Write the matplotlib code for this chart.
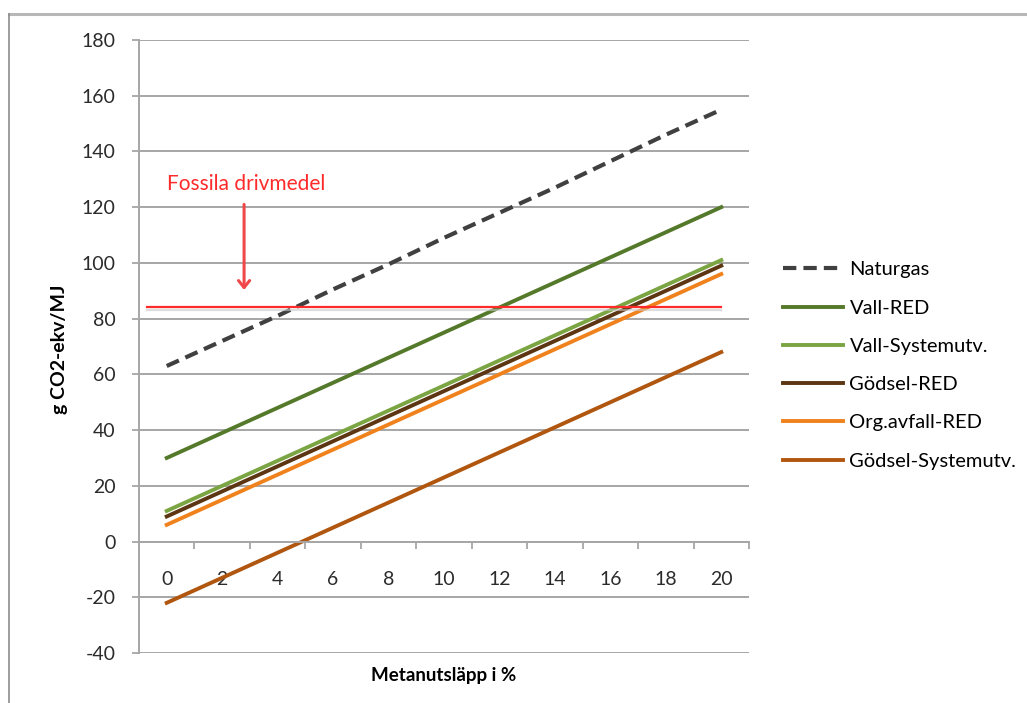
import matplotlib
matplotlib.use("Agg")
import matplotlib.pyplot as plt
import matplotlib.patheffects as pe
from matplotlib.lines import Line2D

plt.rcParams["axes.unicode_minus"] = False

# methane leakage (%)
x_vals = [0, 2, 4, 6, 8, 10, 12, 14, 16, 18, 20]

naturgas = [63, 72, 81, 90.5, 99.5, 109, 118, 127, 136.5, 146, 155]
vall_red = [30, 39, 48, 57, 66, 75, 84, 93, 102, 111, 120]
vall_sys = [11, 20, 29, 38, 47, 56, 65, 74, 83, 92, 101]
godsel_red = [9, 18, 27, 36, 45, 54, 63, 72, 81, 90, 99]
org_red = [6, 15, 24, 33, 42, 51, 60, 69, 78, 87, 96]
godsel_sys = [-22, -13, -4, 5, 14, 23, 32, 41, 50, 59, 68]

fossil_level = 84.3
fossil_span = [-0.7, 20]

series = [
    ("Naturgas", naturgas, "#404040"),
    ("Vall-RED", vall_red, "#55792a"),
    ("Vall-Systemutv.", vall_sys, "#7aa542"),
    ("Gödsel-RED", godsel_red, "#5c3512"),
    ("Org.avfall-RED", org_red, "#f0821e"),
    ("Gödsel-Systemutv.", godsel_sys, "#b0560f"),
]

GRID = "#a6a6a6"
TXT = "Lato"

fig = plt.figure(figsize=(10.27, 7.03), dpi=100)
ax = fig.add_axes([139 / 1027, 1 - 653 / 703, 610 / 1027, 613 / 703])

for name, ys, col in series:
    if name == "Naturgas":
        ax.plot(x_vals, ys, color=col, lw=3, dashes=(3.2, 1.7), label=name,
                solid_capstyle="butt", dash_capstyle="butt")
    else:
        ax.plot(x_vals, ys, color=col, lw=2.8, label=name)

# fossil fuel reference line with soft shadow
ax.plot(fossil_span, [fossil_level, fossil_level], color="#ff2a2a", lw=1.6, zorder=5,
        path_effects=[pe.SimpleLineShadow(offset=(0, -2.5), shadow_color="#c8c8c8", alpha=0.6),
                      pe.Normal()])
ax.text(0, 128.2, "Fossila drivmedel", color="#ff2a2a", fontsize=15, family=TXT,
        va="center", ha="left")
ax.annotate("", xy=(2.79, 89.3), xytext=(2.79, 122),
            arrowprops=dict(arrowstyle="->,head_length=0.5,head_width=0.4",
                            color="#f04848", lw=2.2))

ax.set_xlim(-1, 21)
ax.set_ylim(-40, 180)
ax.set_yticks(range(-40, 181, 20))
ax.set_xticks(x_vals)
ax.set_xticks(range(-1, 22, 2), minor=True)
ax.set_xticklabels([str(v) for v in x_vals])
ax.tick_params(axis="both", which="major", labelsize=14, labelfontfamily=TXT,
               labelcolor="#2b2b2b")
ax.tick_params(axis="x", which="major", length=0, pad=21)
ax.tick_params(axis="x", which="minor", length=5, width=1.3, color=GRID, direction="out")
ax.tick_params(axis="y", length=5, width=1.3, color=GRID, pad=12)

ax.grid(axis="y", color=GRID, lw=1.4)
ax.set_axisbelow(True)
for s in ("top", "right"):
    ax.spines[s].set_visible(False)
ax.spines["bottom"].set_position(("data", 0))
ax.spines["bottom"].set_color(GRID)
ax.spines["bottom"].set_linewidth(1.4)
ax.spines["left"].set_color(GRID)
ax.spines["left"].set_linewidth(1.4)

ax.set_xlabel("Metanutsläpp i %", fontsize=13.5, family=TXT, weight="bold", va="center")
ax.xaxis.set_label_coords(0.5, -22 / 613)
ax.set_ylabel("g CO2-ekv/MJ", fontsize=14, family=TXT, weight="bold", va="center")
ax.yaxis.set_label_coords(-79 / 610, (653 - 349) / 613)

handles, labels = ax.get_legend_handles_labels()
fig.legend(handles, labels, loc="center left", bbox_to_anchor=(783 / 1027, 1 - 365.5 / 703),
           frameon=False, prop={"family": TXT, "size": 14.5}, handlelength=3.0,
           handletextpad=0.3, labelspacing=1.05, borderpad=0, borderaxespad=0)

# outer chart frame (partly cropped in the original)
fig.add_artist(Line2D([9 / 1027, 1], [1 - 14 / 703, 1 - 14 / 703], color="#b8b8b8", lw=2.2))
fig.add_artist(Line2D([9 / 1027, 9 / 1027], [0, 1 - 14 / 703], color="#8c8c8c", lw=1.2))

fig.savefig("out.png", dpi=100)
